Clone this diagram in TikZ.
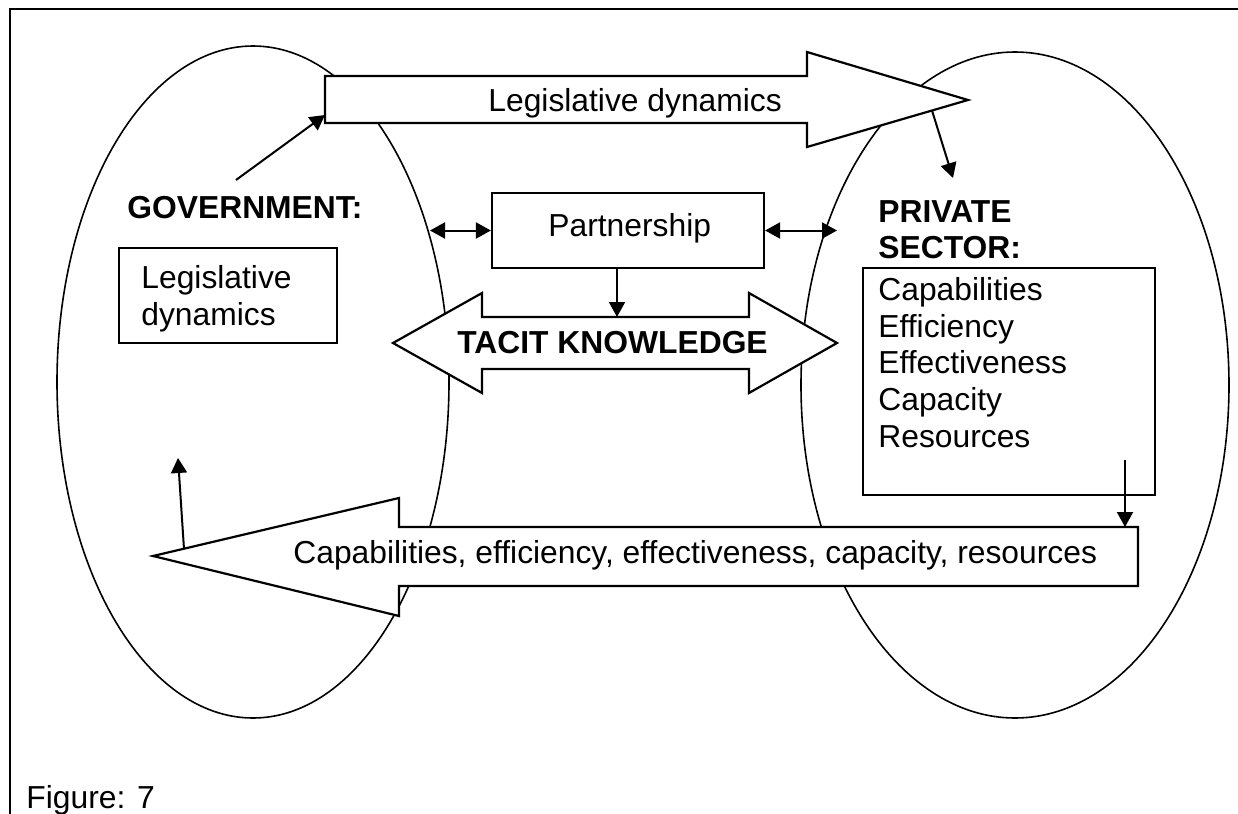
\documentclass[tikz,border=0pt]{standalone}
\usepackage{fontspec}
\setmainfont{Liberation Sans}
\usetikzlibrary{arrows.meta,shapes.geometric}
\newdimen\pu \pu=0.5pt
\begin{document}
\begin{tikzpicture}[x=0.5pt,y=-0.5pt,
  ell/.style={draw, ellipse, line width=0.8pt, inner sep=0pt},
  boxn/.style={draw, rectangle, line width=1.1pt, inner sep=0pt},
  blk/.style={draw, fill=white, line width=1.1pt, line join=miter},
  con/.style={line width=1pt, -{Triangle[length=7.5pt,width=8pt]}},
  con2/.style={line width=1pt, {Triangle[length=7.5pt,width=8pt]}-{Triangle[length=7.5pt,width=8pt]}},
  txt/.style={inner sep=0pt, anchor=base west, font=\fontsize{15.9}{18.35}\selectfont},
  mtxt/.style={inner sep=0pt, anchor=north west, align=left, font=\fontsize{15.9}{18.35}\selectfont},
  btxt/.style={txt, font=\fontsize{15.9}{18.35}\selectfont\bfseries},
  mbtxt/.style={mtxt, font=\fontsize{15.9}{18.35}\selectfont\bfseries}]
\useasboundingbox (0,0) rectangle (1238,814);
% frame
\draw[line width=1pt] (10,814) -- (10,9) -- (1238,9);
% ellipses
\node[ell, minimum width=392\pu, minimum height=672\pu] (gov) at (253,382) {};
\node[ell, minimum width=428\pu, minimum height=666\pu] (priv) at (1015,385) {};
% top block arrow
\draw[blk] (325,76) -- (807,76) -- (807,52) -- (968,100) -- (807,147) -- (807,123) -- (325,123) -- cycle;
\node[txt] (toptxt) at (488,111) {Legislative dynamics};
\coordinate (topW) at (325,115);
\coordinate (topHead) at (932,110.5);
% tacit double arrow
\draw[blk] (393,343) -- (482,293) -- (482,317) -- (749,317) -- (749,293) -- (837,343)
  -- (749,393) -- (749,369) -- (482,369) -- (482,393) -- cycle;
\node[btxt] (tacit) at (457,353) {TACIT KNOWLEDGE};
\coordinate (tacitN) at (617,317);
% bottom block arrow
\draw[blk] (153,556) -- (399,498) -- (399,527) -- (1138,527) -- (1138,586) -- (399,586) -- (399,616) -- cycle;
\node[txt] (bottxt) at (293,563) {Capabilities, efficiency, effectiveness, capacity, resources};
\coordinate (botN) at (1125,527);
\coordinate (botHead) at (184,549);
% partnership
\node[boxn, minimum width=272\pu, minimum height=75\pu] (partner) at (628,230.5) {};
\node[txt] (partxt) at (548,236) {Partnership};
% government
\node[btxt] (govlab) at (127,218) {GOVERNMENT:};
\node[boxn, minimum width=218\pu, minimum height=95\pu] (govbox) at (228,295.5) {};
\node[mtxt] (govtxt) at (141,265) {Legislative\\dynamics};
% private sector
\node[mbtxt] (privlab) at (878,200) {PRIVATE\\SECTOR:};
\node[boxn, minimum width=292\pu, minimum height=227\pu] (pbox) at (1009,381.5) {};
\node[mtxt] (ptxt) at (878,277) {Capabilities\\Efficiency\\Effectiveness\\Capacity\\Resources};
% caption
\node[txt] (fig) at (26,808) {Figure: 7};
% connectors
\coordinate (govtail) at (236,180);
\draw[con] (govtail) -- (topW);
\coordinate (privtip) at (953,178);
\draw[con] (topHead) -- (privtip);
\coordinate (pl) at (430,230.5);
\coordinate (pr) at (837,230.5);
\draw[con2] (pl) -- (partner.west);
\draw[con2] (partner.east) -- (pr);
\draw[con] (partner.south -| tacitN) -- (tacitN);
\coordinate (pbtail) at (1125,460);
\draw[con] (pbtail) -- (botN);
\coordinate (govup) at (178,458);
\draw[con] (botHead) -- (govup);
\end{tikzpicture}
\end{document}
